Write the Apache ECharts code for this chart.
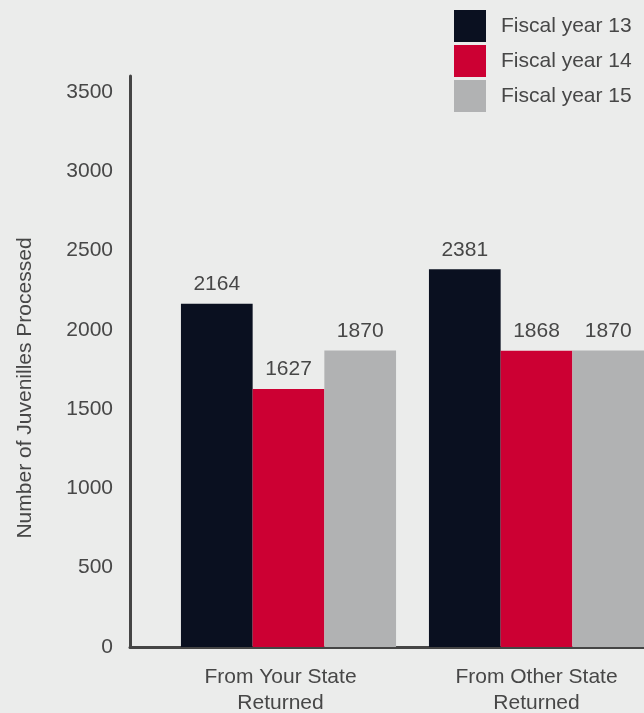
<!DOCTYPE html>
<html>
<head>
<meta charset="utf-8">
<script src="https://cdn.jsdelivr.net/npm/echarts@6/dist/echarts.min.js"></script>
<style>
  html, body { margin: 0; padding: 0; background: #ebeceb; overflow: hidden; }
  #chart { width: 644px; height: 713px; }
</style>
</head>
<body>
<div id="chart"></div>
<script>
// ---- data ----
const categories = ['From Your State\nReturned', 'From Other State\nReturned'];
const seriesNames = ['Fiscal year 13', 'Fiscal year 14', 'Fiscal year 15'];
const fy13 = [2164, 2381];
const fy14 = [1627, 1868];
const fy15 = [1870, 1870];
const yAxisTitle = 'Number of Juvenilles Processed';
const yMin = 0;
const yMax = 3600;
const yStep = 500;

// ---- styles ----
const FONT = "'Liberation Sans', Arial, Helvetica, sans-serif";
const TEXT = '#474747';
const AXIS = '#454545';
const colors = ['#0a1020', '#cc0033', '#b1b2b3'];

const chart = echarts.init(document.getElementById('chart'), null, { renderer: 'canvas' });

const seriesData = [fy13, fy14, fy15];

const option = {
  backgroundColor: '#ebeceb',
  color: colors,
  textStyle: { fontFamily: FONT },
  animation: false,
  legend: {
    orient: 'vertical',
    left: 454,
    top: 10,
    padding: 0,
    itemWidth: 32,
    itemHeight: 32,
    itemGap: 3,
    icon: 'rect',
    data: seriesNames,
    textStyle: { fontSize: 21, color: TEXT, fontFamily: FONT, padding: [0, 0, 0, 10] }
  },
  grid: [
    { left: 130, right: 0, top: 76, bottom: 66, outerBoundsMode: 'none' },
    { left: 164.5, width: 496, top: 76, bottom: 66, outerBoundsMode: 'none' },
    { left: 130, right: 0, top: 129, bottom: 66, outerBoundsMode: 'none' }
  ],
  xAxis: [
    {
      gridIndex: 0, type: 'category', data: categories,
      axisLine: { show: true, lineStyle: { color: AXIS, width: 3 } },
      axisTick: { show: false }, axisLabel: { show: false }, splitLine: { show: false }
    },
    {
      gridIndex: 1, type: 'category',
      data: [
        { value: categories[0], textStyle: { padding: [0, 16, 0, 0] } },
        { value: categories[1] }
      ],
      axisLine: { show: false }, axisTick: { show: false },
      axisLabel: { fontSize: 21, color: TEXT, fontFamily: FONT, lineHeight: 26, margin: 17 }
    },
    { gridIndex: 2, type: 'category', data: categories, show: false }
  ],
  yAxis: [
    {
      gridIndex: 0, type: 'value', min: yMin, max: yMax, interval: yStep,
      axisLine: { show: true, lineStyle: { color: AXIS, width: 3 } },
      axisTick: { show: false }, splitLine: { show: false },
      axisLabel: {
        fontSize: 21, color: TEXT, fontFamily: FONT, margin: 17, showMaxLabel: false,
        formatter: (v) => String(v)
      }
    },
    {
      gridIndex: 1, type: 'value', min: yMin, max: yMax, interval: yStep, show: false
    },
    {
      gridIndex: 2, type: 'value', min: yMin, max: yMax,
      name: yAxisTitle, nameLocation: 'middle', nameGap: 94,
      nameTextStyle: { fontSize: 21, color: TEXT, fontFamily: FONT },
      axisLine: { show: false }, axisTick: { show: false },
      axisLabel: { show: false }, splitLine: { show: false }
    }
  ],
  series: seriesNames.map((name, i) => ({
    name: name,
    type: 'bar',
    xAxisIndex: 1,
    yAxisIndex: 1,
    data: seriesData[i],
    barWidth: 71.7,
    barGap: '0%',
    itemStyle: { color: colors[i] },
    label: {
      show: true, position: 'top', distance: 9,
      fontSize: 21, color: TEXT, fontFamily: FONT
    }
  }))
};

chart.setOption(option);
</script>
</body>
</html>
